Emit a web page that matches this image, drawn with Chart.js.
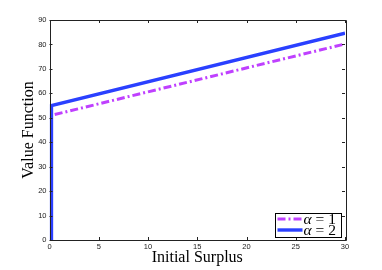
<!DOCTYPE html>
<html><head><meta charset="utf-8">
<script src="https://cdn.jsdelivr.net/npm/chart.js@4/dist/chart.umd.min.js"></script>
<style>html,body{margin:0;padding:0;background:#fff}#c{display:block}</style>
</head><body>
<canvas id="c" width="382" height="270"></canvas>
<script>
const surplus = [0.2, 0.2, 30];
const valueAlpha1 = [0, 51.0, 80.2];
const valueAlpha2 = [0, 55.0, 84.6];
const xTicks = [0, 5, 10, 15, 20, 25, 30];
const yTicks = [0, 10, 20, 30, 40, 50, 60, 70, 80, 90];
const seriesLabels = ['α = 1', 'α = 2'];

const frame = {
  id: 'frame',
  afterDraw(chart) {
    const {ctx, chartArea: a, scales: {x, y}} = chart;
    ctx.save();
    ctx.strokeStyle = '#222';
    ctx.lineWidth = 1;
    ctx.beginPath();
    ctx.rect(Math.round(a.left)+0.5, Math.round(a.top)+0.5, Math.round(a.right-a.left), Math.round(a.bottom-a.top));
    ctx.stroke();
    const L = 3;
    ctx.beginPath();
    xTicks.forEach(v => {
      const px = Math.round(x.getPixelForValue(v)) + 0.5;
      ctx.moveTo(px, a.bottom); ctx.lineTo(px, a.bottom - L);
      ctx.moveTo(px, a.top); ctx.lineTo(px, a.top + L);
    });
    yTicks.forEach(v => {
      const py = Math.round(y.getPixelForValue(v)) + 0.5;
      ctx.moveTo(a.left, py); ctx.lineTo(a.left + L, py);
      ctx.moveTo(a.right, py); ctx.lineTo(a.right - L, py);
    });
    ctx.stroke();
    // legend
    const bx = 275.5, by = 213.5, bw = 66, bh = 24;
    ctx.fillStyle = '#fff';
    ctx.fillRect(bx, by, bw, bh);
    ctx.strokeStyle = '#000';
    ctx.strokeRect(bx, by, bw, bh);
    const rows = [219, 230];
    chart.data.datasets.forEach((ds, i) => {
      ctx.strokeStyle = ds.borderColor;
      ctx.lineWidth = ds.borderWidth;
      ctx.setLineDash(ds.borderDash || []);
      ctx.beginPath();
      ctx.moveTo(bx + 2, rows[i]); ctx.lineTo(bx + 27, rows[i]);
      ctx.stroke();
      ctx.setLineDash([]);
      ctx.fillStyle = '#000';
      ctx.textBaseline = 'middle';
      const parts = ds.label.split(' ');
      ctx.font = 'italic 15.5px "Liberation Serif"';
      ctx.fillText(parts[0], bx + 28, rows[i] + 1);
      const w = ctx.measureText(parts[0]).width;
      ctx.font = '15.5px "Liberation Serif"';
      ctx.fillText(' ' + parts.slice(1).join(' '), bx + 28 + w, rows[i] + 1);
    });
    ctx.restore();
  }
};

new Chart(document.getElementById('c'), {
  type: 'line',
  data: {
    datasets: [
      { label: seriesLabels[0], order: 1, data: surplus.map((s, i) => ({x: s, y: valueAlpha1[i]})),
        borderColor: '#bf40ff', borderWidth: 3, borderDash: [8, 3, 2, 3], pointRadius: 0, fill: false, tension: 0 },
      { label: seriesLabels[1], order: 0, data: surplus.map((s, i) => ({x: s, y: valueAlpha2[i]})),
        borderColor: '#2a40ff', borderWidth: 3.4, pointRadius: 0, fill: false, tension: 0 }
    ]
  },
  options: {
    responsive: false, animation: false,
    layout: { padding: { left: 0, top: 20, right: 37, bottom: 0 } },
    plugins: { legend: { display: false }, tooltip: { enabled: false } },
    scales: {
      x: {
        type: 'linear', min: 0, max: 30,
        afterBuildTicks: s => { s.ticks = xTicks.map(v => ({value: v})); },
        afterFit: s => { s.height = 30; },
        grid: { display: false, drawTicks: false },
        border: { display: false },
        ticks: { padding: 2, font: { family: 'Liberation Sans', size: 7.5 }, color: '#222', maxRotation: 0 },
        title: { display: true, text: 'Initial Surplus', font: { family: 'Liberation Serif', size: 16 }, color: '#000', padding: { top: 0, bottom: 3 } }
      },
      y: {
        type: 'linear', min: 0, max: 90,
        afterBuildTicks: s => { s.ticks = yTicks.map(v => ({value: v})); },
        afterFit: s => { s.width = 49.5; },
        grid: { display: false, drawTicks: false },
        border: { display: false },
        ticks: { padding: 3, font: { family: 'Liberation Sans', size: 7.5 }, color: '#222' },
        title: { display: true, text: 'Value Function', font: { family: 'Liberation Serif', size: 16 }, color: '#000', padding: { top: 19, bottom: 0 } }
      }
    }
  },
  plugins: [frame]
});
</script>
</body></html>
